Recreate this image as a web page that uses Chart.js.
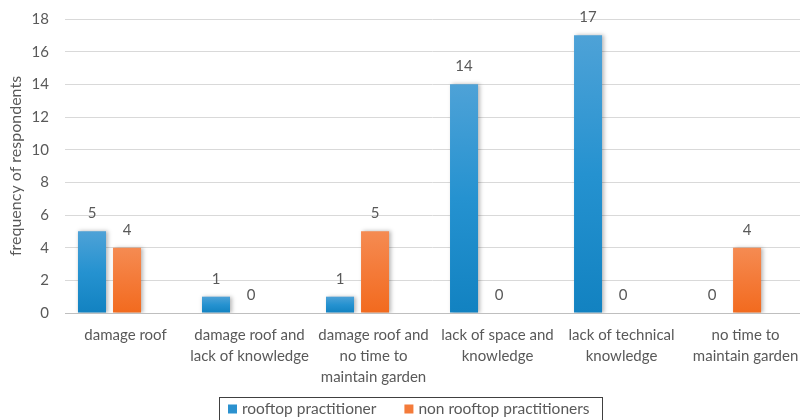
<!DOCTYPE html>
<html>
<head>
<meta charset="utf-8">
<title>Rooftop garden barriers</title>
<script src="https://cdn.jsdelivr.net/npm/chart.js@4.4.1/dist/chart.umd.min.js"></script>
<style>
    html, body { margin: 0; padding: 0; background: #fff; overflow: hidden; }
    #wrap { width: 860px; height: 420px; }
</style>
</head>
<body>
<div id="wrap"><canvas id="MyBarrierChart" width="860" height="420"></canvas></div>
<script>
// Chart data
var categories = [
    ['damage roof'],
    ['damage roof and', 'lack of knowledge'],
    ['damage roof and', 'no time to', 'maintain garden'],
    ['lack of space and', 'knowledge'],
    ['lack of technical', 'knowledge'],
    ['no time to', 'maintain garden']
];
var rooftopValues = [5, 1, 1, 14, 17, 0];
var nonRooftopValues = [4, 0, 5, 0, 0, 4];
var seriesNames = ['rooftop practitioner', 'non rooftop practitioners'];
var yTicks = [0, 2, 4, 6, 8, 10, 12, 14, 16, 18];

var textColor = '#595959';
var fontFamily = 'Lato, "Open Sans", sans-serif';

// Vertical gradient per bar, light at the top and dark at the base
function barGradient(stops, fallback) {
    return function(c) {
        var chart = c.chart;
        var y = chart.scales && chart.scales.y;
        if (!y || !c.parsed) return fallback;
        var top = y.getPixelForValue(c.parsed.y);
        var base = y.getPixelForValue(0);
        if (!isFinite(top) || top === base) return fallback;
        var g = chart.ctx.createLinearGradient(0, top, 0, base);
        stops.forEach(function(s) { g.addColorStop(s[0], s[1]); });
        return g;
    };
}

function toPoints(values) {
    return values.map(function(v, i) { return { x: i, y: v }; });
}

// Bar shadow + value labels + boxed legend
var decorPlugin = {
    id: 'decor',
    beforeDatasetsDraw: function(chart) {
        var ctx = chart.ctx;
        ctx.save();
        ctx.shadowColor = 'rgba(0,0,0,0.28)';
        ctx.shadowBlur = 4;
        ctx.shadowOffsetX = 1.5;
        ctx.shadowOffsetY = 0;
    },
    afterDatasetsDraw: function(chart) {
        var ctx = chart.ctx;
        ctx.restore();
        ctx.save();
        ctx.font = '15px ' + fontFamily;
        ctx.fillStyle = textColor;
        ctx.textAlign = 'center';
        ctx.textBaseline = 'middle';
        chart.data.datasets.forEach(function(ds, di) {
            chart.getDatasetMeta(di).data.forEach(function(bar, i) {
                ctx.fillText(String(ds.data[i].y), bar.x, bar.y - 18);
            });
        });
        ctx.restore();
    },
    afterDraw: function(chart) {
        var ctx = chart.ctx;
        var colors = ['#2b91cf', '#f47b3a'];
        var box = 9, gap = 5, itemGap = 28, padL = 9, padR = 12;
        ctx.save();
        ctx.font = '15.5px ' + fontFamily;
        var widths = seriesNames.map(function(n) { return ctx.measureText(n).width; });
        var total = padL + padR + itemGap * (seriesNames.length - 1);
        widths.forEach(function(w) { total += box + gap + w; });
        var left = Math.round(chart.chartArea.left + 345 - total / 2);
        var top = chart.chartArea.bottom + 84;
        ctx.strokeStyle = '#404040';
        ctx.lineWidth = 1;
        ctx.strokeRect(left + 0.5, top + 0.5, Math.round(total), 40);
        var x = left + padL;
        var cy = top + 12;
        ctx.textBaseline = 'middle';
        ctx.textAlign = 'left';
        seriesNames.forEach(function(n, i) {
            ctx.fillStyle = colors[i];
            ctx.fillRect(x, cy - 4.5, box, box);
            ctx.fillStyle = textColor;
            ctx.fillText(n, x + box + gap, cy);
            x += box + gap + widths[i] + itemGap;
        });
        ctx.restore();
    }
};

var ctx = document.getElementById('MyBarrierChart').getContext('2d');
var chart = new Chart(ctx, {
    type: 'bar',
    data: {
        datasets: [{
            label: seriesNames[0],
            data: toPoints(rooftopValues),
            backgroundColor: barGradient([[0, '#4ea2d7'], [0.5, '#2592d0'], [1, '#1282c1']], '#2b91cf'),
            borderWidth: 0
        }, {
            label: seriesNames[1],
            data: toPoints(nonRooftopValues),
            backgroundColor: barGradient([[0, '#f58b52'], [0.5, '#f47a38'], [1, '#f26a1e']], '#f47b3a'),
            borderWidth: 0
        }]
    },
    options: {
        responsive: false,
        animation: false,
        devicePixelRatio: 1,
        categoryPercentage: 0.565,
        barPercentage: 0.8,
        layout: { padding: { top: 19, right: 60, left: 0, bottom: 0 } },
        plugins: {
            legend: { display: false },
            tooltip: { enabled: false }
        },
        scales: {
            x: {
                type: 'linear',
                offset: false,
                min: -0.359,
                max: 5.568,
                afterBuildTicks: function(scale) {
                    scale.ticks = categories.map(function(c, i) { return { value: i }; });
                },
                afterFit: function(scale) { scale.height = 107; },
                grid: { display: false, drawTicks: false, offset: false },
                border: { display: true, color: '#bfbfbf', width: 1 },
                ticks: {
                    maxRotation: 0,
                    autoSkip: false,
                    padding: 12,
                    labelOffset: 16,
                    color: textColor,
                    font: { family: fontFamily, size: 15, lineHeight: 1.4 },
                    callback: function(value) { return categories[value]; }
                }
            },
            y: {
                min: 0,
                max: 18,
                afterBuildTicks: function(scale) {
                    scale.ticks = yTicks.map(function(v) { return { value: v }; });
                },
                afterFit: function(scale) {
                    scale.width = 65;
                    scale.paddingTop = 0;
                    scale.paddingBottom = 0;
                },
                grid: { color: '#d9d9d9', drawTicks: false },
                border: { display: false },
                ticks: {
                    padding: 16,
                    color: textColor,
                    font: { family: fontFamily, size: 15 }
                },
                title: {
                    display: true,
                    text: 'frequency of respondents',
                    color: textColor,
                    font: { family: fontFamily, size: 16 },
                    padding: { top: 6, bottom: 0 }
                }
            }
        }
    },
    plugins: [decorPlugin]
});
</script>
</body>
</html>
